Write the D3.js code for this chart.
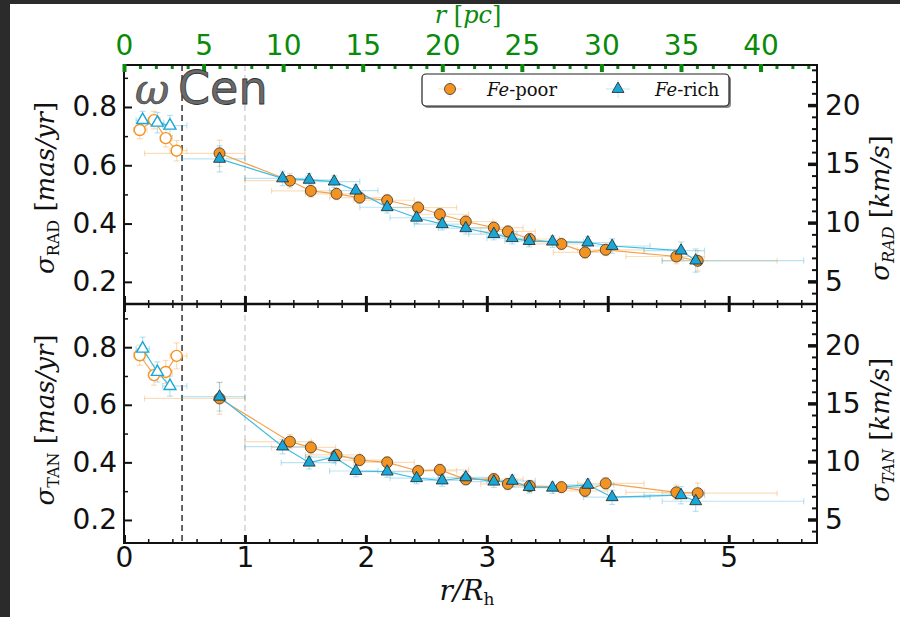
<!DOCTYPE html>
<html><head><meta charset="utf-8">
<script src="https://cdn.jsdelivr.net/npm/d3@7"></script>
<style>
body{margin:0;background:#2b2b2b;}
svg{display:block;}
</style></head>
<body>
<svg id="c" width="900" height="617"></svg>
<script>
// ---------------- DATA ----------------
const xTicks = [0,1,2,3,4,5];
const pcTicks = [0,5,10,15,20,25,30,35,40];
const yTicks = [0.2,0.4,0.6,0.8];
const kmsTicks = [5,10,15,20];
const pcPerRh = 7.6;
const kmsPerMas = 24.8;

// inner (open-marker) points
const poorInX = [0.13,0.248,0.345,0.435];
const richInX = [0.154,0.276,0.38];
const radPoorIn = [0.721,0.755,0.693,0.650];
const radRichIn = [0.755,0.746,0.736];
const tanPoorIn = [0.772,0.703,0.714,0.770];
const tanRichIn = [0.795,0.714,0.665];
const poorInXlo = [0.08,0.20,0.30,0.38];
const poorInXhi = [0.19,0.30,0.40,0.52];
const richInXlo = [0.10,0.22,0.32];
const richInXhi = [0.21,0.33,0.52];
const radPoorInErr = [0.03,0.03,0.03,0.035];
const radRichInErr = [0.03,0.035,0.035];
const tanPoorInErr = [0.035,0.035,0.04,0.045];
const tanRichInErr = [0.04,0.035,0.035];

// outer (filled-marker) points
const poorX = [0.79,1.372,1.545,1.757,1.948,2.176,2.432,2.612,2.826,3.058,3.174,3.355,3.617,3.812,3.983,4.567,4.744];
const richX = [0.79,1.311,1.531,1.738,1.917,2.176,2.419,2.631,2.826,3.058,3.21,3.35,3.543,3.835,4.036,4.606,4.727];
const poorXlo = [0.17,1.0,1.22,1.5,1.7,1.9,2.2,2.4,2.6,2.8,2.95,3.15,3.35,3.55,3.75,4.15,4.45];
const poorXhi = [1.0,1.55,1.75,1.95,2.15,2.4,2.75,2.85,3.05,3.3,3.4,3.6,3.85,4.0,4.3,4.8,5.4];
const richXlo = [0.48,1.0,1.3,1.5,1.7,1.95,2.2,2.4,2.6,2.85,3.0,3.15,3.35,3.6,3.8,4.3,4.45];
const richXhi = [1.0,1.5,1.75,1.95,2.1,2.4,2.65,2.85,3.05,3.25,3.4,3.55,3.8,4.05,4.35,4.8,5.62];
const radPoor = [0.641,0.547,0.512,0.502,0.489,0.480,0.455,0.432,0.407,0.386,0.373,0.347,0.330,0.301,0.310,0.287,0.272];
const radRich = [0.622,0.555,0.550,0.544,0.513,0.456,0.420,0.398,0.384,0.364,0.350,0.340,0.338,0.335,0.323,0.307,0.273];
const tanPoor = [0.622,0.472,0.452,0.426,0.408,0.400,0.370,0.374,0.341,0.342,0.325,0.318,0.314,0.301,0.327,0.296,0.293];
const tanRich = [0.628,0.455,0.399,0.418,0.370,0.368,0.345,0.337,0.348,0.333,0.336,0.314,0.312,0.322,0.279,0.286,0.265];
const radPoorErr = [0.045,0.025,0.022,0.02,0.02,0.02,0.02,0.02,0.02,0.02,0.02,0.02,0.02,0.02,0.02,0.025,0.035];
const radRichErr = [0.045,0.025,0.022,0.02,0.02,0.02,0.02,0.02,0.02,0.02,0.02,0.02,0.02,0.02,0.025,0.03,0.04];
const tanPoorErr = [0.055,0.025,0.022,0.02,0.02,0.02,0.02,0.02,0.02,0.02,0.02,0.02,0.02,0.02,0.02,0.025,0.035];
const tanRichErr = [0.05,0.025,0.022,0.02,0.02,0.02,0.02,0.02,0.02,0.02,0.02,0.02,0.02,0.02,0.025,0.03,0.035];

const vLines = [0.48, 1.0];

// ---------------- STYLE ----------------
const ORANGE = "#f39322", BLUE = "#19a7d8";
const ORANGE_L = "#f5a24a", BLUE_L = "#3cbbe4";
const L = 124, R = 817, T = 65, MID = 304, B = 543;
const SANS = "'DejaVu Sans',sans-serif";
const SERIF = "'DejaVu Serif','Liberation Serif',serif";
const TICKFS = 28;

const svg = d3.select("#c");
svg.append("rect").attr("x",10).attr("y",4).attr("width",890).attr("height",613).attr("fill","#fff");

const x = d3.scaleLinear().domain([0,5.73]).range([L,R]);
const xpc = d3.scaleLinear().domain([0,5.73*pcPerRh]).range([L,R]);
const yTop = d3.scaleLinear().domain([0.124,0.944]).range([MID,T]);
const yBot = d3.scaleLinear().domain([0.12,0.95]).range([B,MID]);

function cleanAxis(g){ g.select(".domain").remove(); g.selectAll("text").style("font-family",SANS).style("font-size",TICKFS+"px").attr("fill","#111"); g.selectAll("line").attr("stroke","#111"); }

// vertical dashed lines
vLines.forEach((v,i)=>{
  svg.append("line").attr("x1",x(v)).attr("x2",x(v)).attr("y1",T).attr("y2",B)
    .attr("stroke", i===0 ? "#333" : "#d2d2d2").attr("stroke-width",1.5).attr("stroke-dasharray","6,4");
});

function panel(y, poorInY, richInY, poorInE, richInE, poorY, richY, poorE, richE){
  const g = svg.append("g");
  const eb = g.append("g");
  function errs(xs, xlo, xhi, ys, ye, col){
    xs.forEach((xv,i)=>{
      const e = eb.append("g").attr("stroke",col).attr("stroke-opacity",0.3).attr("stroke-width",1.2);
      e.append("line").attr("x1",x(xlo[i])).attr("x2",x(xhi[i])).attr("y1",y(ys[i])).attr("y2",y(ys[i]));
      e.append("line").attr("x1",x(xlo[i])).attr("x2",x(xlo[i])).attr("y1",y(ys[i])-3).attr("y2",y(ys[i])+3);
      e.append("line").attr("x1",x(xhi[i])).attr("x2",x(xhi[i])).attr("y1",y(ys[i])-3).attr("y2",y(ys[i])+3);
      e.append("line").attr("x1",x(xv)).attr("x2",x(xv)).attr("y1",y(ys[i]-ye[i])).attr("y2",y(ys[i]+ye[i]));
      e.append("line").attr("x1",x(xv)-3).attr("x2",x(xv)+3).attr("y1",y(ys[i]-ye[i])).attr("y2",y(ys[i]-ye[i]));
      e.append("line").attr("x1",x(xv)-3).attr("x2",x(xv)+3).attr("y1",y(ys[i]+ye[i])).attr("y2",y(ys[i]+ye[i]));
    });
  }
  errs(poorInX, poorInXlo, poorInXhi, poorInY, poorInE, ORANGE);
  errs(richInX, richInXlo, richInXhi, richInY, richInE, BLUE);
  errs(poorX, poorXlo, poorXhi, poorY, poorE, ORANGE);
  errs(richX, richXlo, richXhi, richY, richE, BLUE);

  const line = d3.line().x(d=>x(d[0])).y(d=>y(d[1]));
  const pIn = poorInX.map((v,i)=>[v,poorInY[i]]);
  const rIn = richInX.map((v,i)=>[v,richInY[i]]);
  const pOut = poorX.map((v,i)=>[v,poorY[i]]);
  const rOut = richX.map((v,i)=>[v,richY[i]]);
  g.append("path").attr("d",line(pIn)).attr("fill","none").attr("stroke",ORANGE_L).attr("stroke-width",1.2);
  g.append("path").attr("d",line(rIn)).attr("fill","none").attr("stroke",BLUE_L).attr("stroke-width",1.2);
  g.append("path").attr("d",line(pOut)).attr("fill","none").attr("stroke",ORANGE_L).attr("stroke-width",1.2);
  g.append("path").attr("d",line(rOut)).attr("fill","none").attr("stroke",BLUE_L).attr("stroke-width",1.2);

  const tri = d3.symbol().type(d3.symbolTriangle).size(62);
  g.selectAll(null).data(pIn).join("circle").attr("cx",d=>x(d[0])).attr("cy",d=>y(d[1])).attr("r",5.5)
    .attr("fill","#fff").attr("stroke",ORANGE).attr("stroke-width",1.4);
  g.selectAll(null).data(rIn).join("path").attr("d",tri).attr("transform",d=>`translate(${x(d[0])},${y(d[1])})`)
    .attr("fill","#fff").attr("stroke",BLUE).attr("stroke-width",1.4);
  g.selectAll(null).data(pOut).join("circle").attr("cx",d=>x(d[0])).attr("cy",d=>y(d[1])).attr("r",5.5)
    .attr("fill",ORANGE).attr("stroke","#333").attr("stroke-width",0.8);
  g.selectAll(null).data(rOut).join("path").attr("d",tri).attr("transform",d=>`translate(${x(d[0])},${y(d[1])})`)
    .attr("fill",BLUE).attr("stroke","#222").attr("stroke-width",0.8);

  // left axis (mas/yr)
  const minorY = d3.range(0.2,0.95,0.1).map(v=>+v.toFixed(2)).filter(v=>!yTicks.some(t=>Math.abs(t-v)<1e-6));
  svg.append("g").attr("transform",`translate(${L},0)`).call(d3.axisLeft(y).tickValues(minorY).tickSize(-4).tickFormat("")).call(cleanAxis).selectAll("line").attr("stroke-width",1.5);
  svg.append("g").attr("transform",`translate(${L},0)`).call(d3.axisLeft(y).tickValues(yTicks).tickSize(-8).tickPadding(7).tickFormat(d3.format(".1f"))).call(cleanAxis).selectAll("line").attr("stroke-width",2);
  // right axis (km/s)
  const yk = d3.scaleLinear().domain(y.domain().map(v=>v*kmsPerMas)).range(y.range());
  const lo = Math.min(...y.range()), hi = Math.max(...y.range());
  const minorK = d3.range(3,24,1).filter(v=>!kmsTicks.includes(v) && yk(v)>=lo+1 && yk(v)<=hi-1);
  svg.append("g").attr("transform",`translate(${R},0)`).call(d3.axisRight(yk).tickValues(minorK).tickSize(-5).tickFormat("")).call(cleanAxis).selectAll("line").attr("stroke-width",2);
  svg.append("g").attr("transform",`translate(${R},0)`).call(d3.axisRight(yk).tickValues(kmsTicks).tickSize(-9).tickPadding(8).tickFormat(d3.format("d"))).call(cleanAxis).selectAll("line").attr("stroke-width",3.5);
}

panel(yTop, radPoorIn, radRichIn, radPoorInErr, radRichInErr, radPoor, radRich, radPoorErr, radRichErr);
panel(yBot, tanPoorIn, tanRichIn, tanPoorInErr, tanRichInErr, tanPoor, tanRich, tanPoorErr, tanRichErr);

// x axes
const minorX = d3.range(0,5.73,0.2).map(v=>+v.toFixed(2)).filter(v=>Math.abs(v-Math.round(v))>1e-6);
function xAxes(yPos, s, labels){
  svg.append("g").attr("transform",`translate(0,${yPos})`).call(d3.axisBottom(x).tickValues(minorX).tickSize(-4*s).tickFormat("")).call(cleanAxis).selectAll("line").attr("stroke-width",1.5);
  const a = svg.append("g").attr("transform",`translate(0,${yPos})`).call(d3.axisBottom(x).tickValues(xTicks).tickSize(-8*s).tickPadding(4).tickFormat(d3.format("d"))).call(cleanAxis);
  a.selectAll("line").attr("stroke-width",3);
  if(!labels) a.selectAll("text").remove();
}
xAxes(B, 1, true);
xAxes(MID, 1, false);
xAxes(MID, -1, false);

// top pc axis (green)
const GREEN = "#0a8a0a";
const minorPc = d3.range(0,44,1).filter(v=>v%5!==0);
const gp1 = svg.append("g").attr("transform",`translate(0,${T})`).call(d3.axisTop(xpc).tickValues(minorPc).tickSize(-5).tickFormat(""));
gp1.select(".domain").remove(); gp1.selectAll("line").attr("stroke",GREEN).attr("stroke-width",3);

// frame
svg.append("rect").attr("x",L).attr("y",T).attr("width",R-L).attr("height",B-T).attr("fill","none").attr("stroke","#111").attr("stroke-width",2);
svg.append("line").attr("x1",L).attr("x2",R).attr("y1",MID).attr("y2",MID).attr("stroke","#111").attr("stroke-width",2.5);

const gp2 = svg.append("g").attr("transform",`translate(0,${T})`).call(d3.axisTop(xpc).tickValues(pcTicks).tickSize(-8).tickPadding(10).tickFormat(d3.format("d")));
gp2.select(".domain").remove(); gp2.selectAll("line").attr("stroke",GREEN).attr("stroke-width",4);
gp2.selectAll("text").attr("fill",GREEN).style("font-size",TICKFS+"px").style("font-family",SANS);
gp1.selectAll("line").attr("transform","translate(0,-1)");
gp2.selectAll("line").attr("transform","translate(0,-1)");

// axis titles
const tp = svg.append("text").attr("x",468).attr("y",23).attr("text-anchor","middle").style("font-family",SERIF).style("font-size","24px").attr("fill",GREEN);
tp.append("tspan").style("font-style","italic").text("r");
tp.append("tspan").text(" [");
tp.append("tspan").style("font-style","italic").text("pc");
tp.append("tspan").text("]");
const bx = svg.append("text").attr("x",467).attr("y",600).attr("text-anchor","middle").style("font-family",SERIF).style("font-size","28px").attr("fill","#111");
bx.append("tspan").style("font-style","italic").text("r/R");
bx.append("tspan").style("font-size","17px").attr("dy",5).text("h");

function yLabel(xp, yc, sub, unit, subItalic){
  const t = svg.append("text").attr("transform",`translate(${xp},${yc}) rotate(-90)`).attr("text-anchor","middle")
    .style("font-family",SERIF).style("font-size","26px").attr("fill","#111");
  t.append("tspan").style("font-style","italic").text("σ");
  t.append("tspan").style("font-size","16px").attr("dy",5).style("font-style",subItalic?"italic":"normal").text(sub);
  t.append("tspan").attr("dy",-5).text(" [");
  t.append("tspan").style("font-style","italic").text(unit);
  t.append("tspan").text("]");
}
yLabel(54, 188, "RAD", "mas/yr", false);
yLabel(54, 420, "TAN", "mas/yr", false);
yLabel(889, 208, "RAD", "km/s", true);
yLabel(889, 430, "TAN", "km/s", true);

// ω Cen
svg.append("text").attr("x",135).attr("y",104).style("font-family",SERIF).style("font-style","italic").style("font-size","42px")
  .attr("fill","#6a6a6a").attr("stroke","#333").attr("stroke-width",0.6).text("ω");
svg.append("text").attr("x",178).attr("y",104).style("font-family",SANS).style("font-size","46px")
  .attr("fill","#6a6a6a").attr("stroke","#333").attr("stroke-width",0.8).text("Cen");

// legend
const lg = svg.append("g");
lg.append("rect").attr("x",424).attr("y",76).attr("width",307).attr("height",32).attr("rx",4).attr("fill","#888");
lg.append("rect").attr("x",422).attr("y",74).attr("width",307).attr("height",32).attr("rx",4).attr("fill","#fff").attr("stroke","#222").attr("stroke-width",1.2);
[[450,ORANGE,"circle","poor",487],[618,BLUE,"tri","rich",655]].forEach(([cx,col,shape,word,tx])=>{
  lg.append("line").attr("x1",cx-12).attr("x2",cx+12).attr("y1",89).attr("y2",89).attr("stroke",col).attr("stroke-opacity",0.3);
  lg.append("line").attr("x1",cx).attr("x2",cx).attr("y1",80).attr("y2",98).attr("stroke",col).attr("stroke-opacity",0.3);
  if(shape==="circle") lg.append("circle").attr("cx",cx).attr("cy",89).attr("r",5.5).attr("fill",col).attr("stroke","#333").attr("stroke-width",0.8);
  else lg.append("path").attr("d",d3.symbol().type(d3.symbolTriangle).size(62)).attr("transform",`translate(${cx},89)`).attr("fill",col).attr("stroke","#222").attr("stroke-width",0.8);
  const t = lg.append("text").attr("x",tx).attr("y",96).style("font-family",SERIF).style("font-size","18px").attr("fill","#111");
  t.append("tspan").style("font-style","italic").text("Fe");
  t.append("tspan").text("-"+word);
});
</script>
</body></html>
